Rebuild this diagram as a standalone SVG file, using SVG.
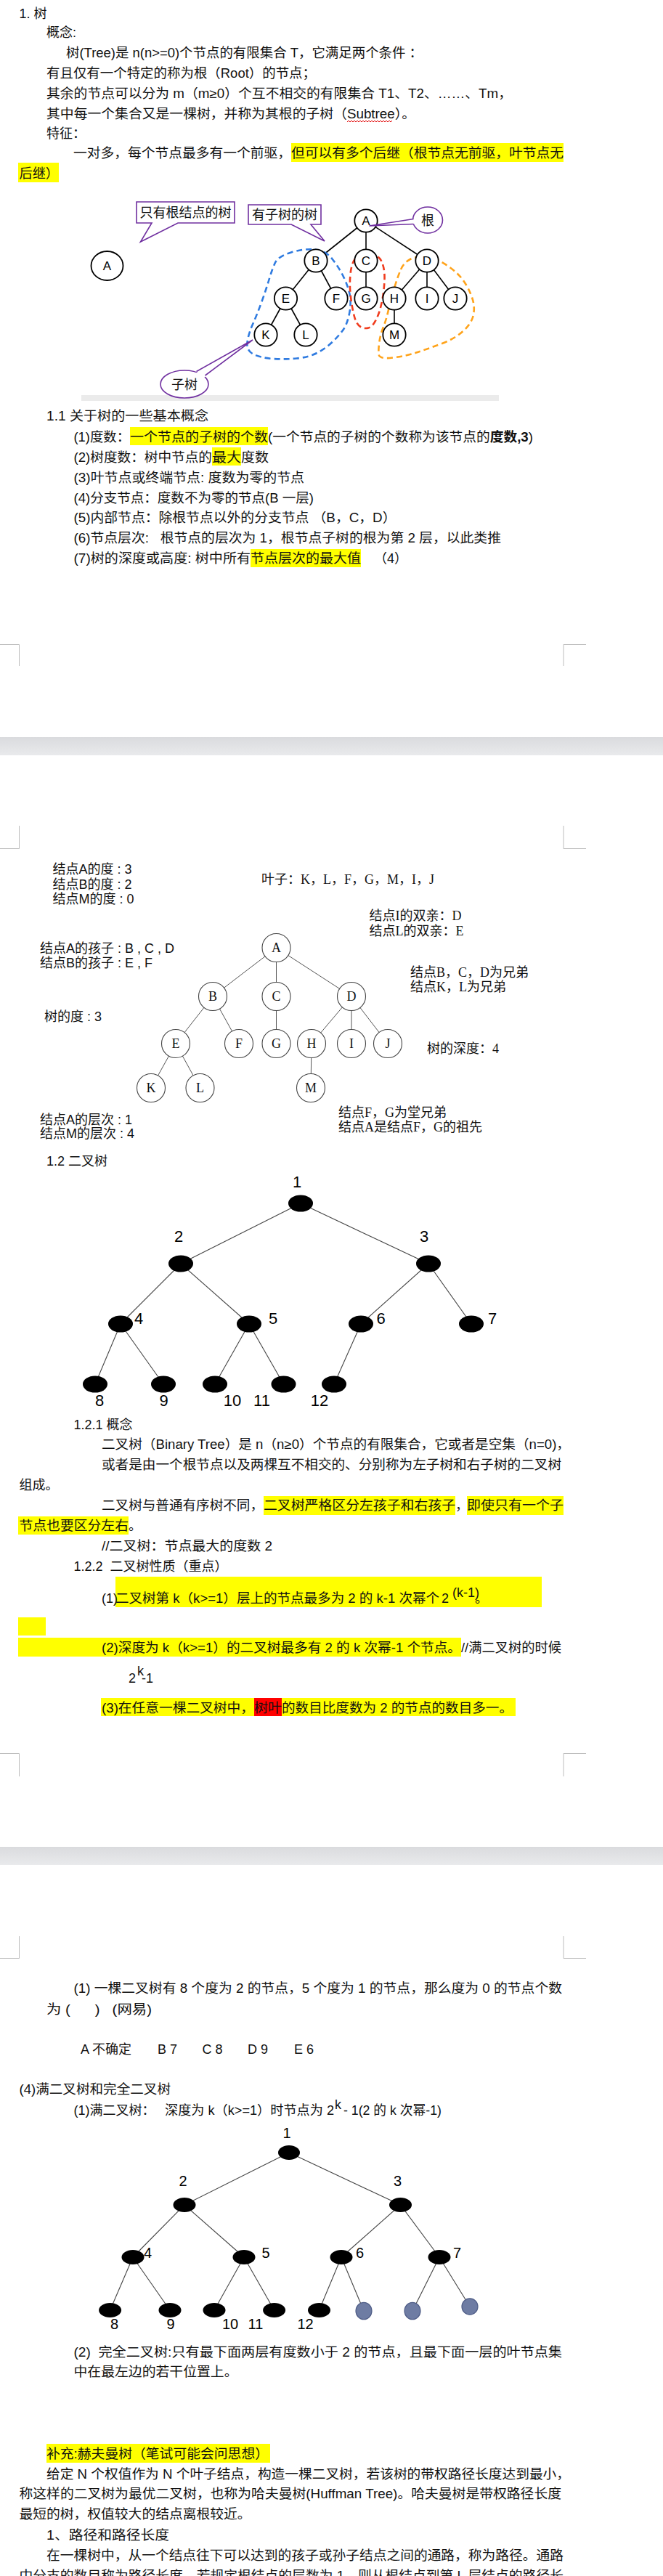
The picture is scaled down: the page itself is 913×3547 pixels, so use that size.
<svg xmlns="http://www.w3.org/2000/svg" width="913" height="3547" viewBox="0 0 913 3547">
<defs>
<linearGradient id="gap" x1="0" y1="0" x2="0" y2="1">
<stop offset="0" stop-color="#DADBDE"/><stop offset="1" stop-color="#E9EAEC"/>
</linearGradient>
<style>
.t{font-family:"Liberation Sans","Noto Sans CJK SC",sans-serif;font-size:18px;fill:#111}
.s{font-family:"Liberation Serif","Noto Sans CJK SC",serif;font-size:18px;fill:#111}
.hl{fill:#FFFF00}
.mark{stroke:#BDBDBD;stroke-width:1;fill:none}
.e1{stroke:#000;stroke-width:1.6;fill:none}
.n1 circle,.n1 ellipse{fill:#fff;stroke:#000;stroke-width:1.8}
.n1 text{font-family:"Liberation Sans",sans-serif;font-size:17px;text-anchor:middle;fill:#000}
.call{fill:#fff;stroke:#7030A0;stroke-width:1.6}
.callt{font-family:"Liberation Sans","Noto Sans CJK SC",sans-serif;font-size:18px;fill:#111;text-anchor:middle}
.loop{fill:none;stroke-width:2.6;stroke-dasharray:8 5}
.e2{stroke:#555;stroke-width:1;fill:none}
.n2 circle{fill:#fff;stroke:#444;stroke-width:1.1}
.n2 text{font-family:"Liberation Serif",serif;font-size:18px;text-anchor:middle;fill:#111}
.e3{stroke:#444;stroke-width:1.1;fill:none}
.bn{fill:#000}
.gn{fill:#6E7CA3;stroke:#4F5D87;stroke-width:1.2}
.bl{font-family:"Liberation Sans",sans-serif;font-size:22px;text-anchor:middle;fill:#000}
.bl2{font-family:"Liberation Sans",sans-serif;font-size:20px;text-anchor:middle;fill:#000}
</style>
</defs>
<rect x="0" y="0" width="913" height="3547" fill="#fff"/>

<!-- page gaps and corner marks -->
<rect x="0" y="1015" width="913" height="25" fill="url(#gap)"/>
<rect x="0" y="2543" width="913" height="25" fill="url(#gap)"/>
<path class="mark" d="M0,887.5H26.5V917 M776,917V887.5H807 M26.5,1137V1168.5H0 M776,1137V1168.5H807 M0,2414.5H26.5V2446 M776,2446V2414.5H807 M26.5,2666V2696.5H0 M776,2666V2696.5H807"/>

<!-- ===== page 1 text ===== -->
<g id="p1-text">
<rect class="hl" x="401" y="197" width="375" height="26"/>
<rect class="hl" x="25" y="224" width="56" height="27"/>
<text class="t" x="26.5" y="25">1. 树</text>
<text class="t" x="64" y="51">概念:</text>
<text class="t" x="91" y="79" textLength="491" lengthAdjust="spacingAndGlyphs">树(Tree)是 n(n&gt;=0)个节点的有限集合 T，它满足两个条件 ：</text>
<text class="t" x="64" y="107" textLength="371" lengthAdjust="spacingAndGlyphs">有且仅有一个特定的称为根（Root）的节点；</text>
<text class="t" x="64" y="135" textLength="641" lengthAdjust="spacingAndGlyphs">其余的节点可以分为 m（m≥0）个互不相交的有限集合 T1、T2、……、Tm，</text>
<text class="t" x="64" y="163" textLength="508" lengthAdjust="spacingAndGlyphs">其中每一个集合又是一棵树，并称为其根的子树（Subtree）。</text>
<polyline fill="none" stroke="#E00000" stroke-width="1" points="478,168 480,166 482,168 484,166 486,168 488,166 490,168 492,166 494,168 496,166 498,168 500,166 502,168 504,166 506,168 508,166 510,168 512,166 514,168 516,166 518,168 520,166 522,168 524,166 526,168 528,166 530,168 532,166 534,168 536,166 538,168 540,166"/>
<text class="t" x="64" y="190">特征：</text>
<text class="t" x="101" y="217" textLength="300" lengthAdjust="spacingAndGlyphs">一对多，每个节点最多有一个前驱，</text>
<text class="t" x="401" y="217" textLength="375" lengthAdjust="spacingAndGlyphs">但可以有多个后继（根节点无前驱，叶节点无</text>
<text class="t" x="26.5" y="245" textLength="54.5" lengthAdjust="spacingAndGlyphs">后继）</text>
</g>

<!-- ===== tree 1 ===== -->
<rect x="112" y="544" width="575" height="8" fill="#EBEBEB"/>
<g id="t1-single-A" class="n1"><ellipse cx="147.5" cy="366" rx="22" ry="20"/><text x="147.5" y="372">A</text></g>

<g id="t1-connectors">
<line class="e1" x1="504" y1="304" x2="435" y2="359"/>
<line class="e1" x1="504" y1="304" x2="504" y2="359"/>
<line class="e1" x1="504" y1="304" x2="588" y2="359"/>
<line class="e1" x1="435" y1="359" x2="393.5" y2="411"/>
<line class="e1" x1="435" y1="359" x2="463" y2="411"/>
<line class="e1" x1="504" y1="359" x2="504" y2="411"/>
<line class="e1" x1="588" y1="359" x2="543" y2="411"/>
<line class="e1" x1="588" y1="359" x2="588" y2="411"/>
<line class="e1" x1="588" y1="359" x2="627" y2="411"/>
<line class="e1" x1="393.5" y1="411" x2="366" y2="461"/>
<line class="e1" x1="393.5" y1="411" x2="421" y2="461"/>
<line class="e1" x1="543" y1="411" x2="543" y2="461"/>
</g>
<g id="t1-subtree-loops">
<path class="loop" stroke="#2F7BE0" d="M433.5,343.5 Q448,345 457,356 Q466,367 472.5,380 Q479,393 481.5,405 Q484,417 481,432 Q478,447 472,455 Q466,463 457,471.5 Q448,480 436.5,486 Q425,492 408.5,493.5 Q392,495 376,494 Q360,493 349.5,488 Q339,483 340.5,471.5 Q342,460 348,446.5 Q354,433 360,416.5 Q366,400 370.5,385 Q375,370 379,361.5 Q383,353 401,347.5 Q419,342 433.5,343.5 Z"/>
<path class="loop" stroke="#F03C1E" d="M508.5,349 Q521,350 525.5,360 Q530,370 529.5,385 Q529,400 526,415 Q523,430 518,440 Q513,450 507.5,451.5 Q502,453 496.5,450 Q491,447 488,436 Q485,425 483,409 Q481,393 482.5,377.5 Q484,362 490,355 Q496,348 508.5,349 Z"/>
<path class="loop" stroke="#FFA31A" d="M584,353.5 Q596,354 607.5,360.5 Q619,367 628,375 Q637,383 643.5,395 Q650,407 652,417 Q654,427 651,437 Q648,447 636.5,457 Q625,467 607.5,473.5 Q590,480 575,485 Q560,490 541,492.5 Q522,495 521.5,487.5 Q521,480 522.5,470 Q524,460 528,450 Q532,440 535,426.5 Q538,413 543,396.5 Q548,380 552,371 Q556,362 564,357.5 Q572,353 584,353.5 Z"/>
</g>
<g id="t1-A" class="n1"><circle cx="504" cy="304" r="15.7"/><text x="504" y="310">A</text></g>
<g id="t1-B" class="n1"><circle cx="435" cy="359" r="15.7"/><text x="435" y="365">B</text></g>
<g id="t1-C" class="n1"><circle cx="504" cy="359" r="15.7"/><text x="504" y="365">C</text></g>
<g id="t1-D" class="n1"><circle cx="588" cy="359" r="15.7"/><text x="588" y="365">D</text></g>
<g id="t1-E" class="n1"><circle cx="393.5" cy="411" r="15.7"/><text x="393.5" y="417">E</text></g>
<g id="t1-F" class="n1"><circle cx="463" cy="411" r="15.7"/><text x="463" y="417">F</text></g>
<g id="t1-G" class="n1"><circle cx="504" cy="411" r="15.7"/><text x="504" y="417">G</text></g>
<g id="t1-H" class="n1"><circle cx="543" cy="411" r="15.7"/><text x="543" y="417">H</text></g>
<g id="t1-I" class="n1"><circle cx="588" cy="411" r="15.7"/><text x="588" y="417">I</text></g>
<g id="t1-J" class="n1"><circle cx="627" cy="411" r="15.7"/><text x="627" y="417">J</text></g>
<g id="t1-K" class="n1"><circle cx="366" cy="461" r="15.7"/><text x="366" y="467">K</text></g>
<g id="t1-L" class="n1"><circle cx="421" cy="461" r="15.7"/><text x="421" y="467">L</text></g>
<g id="t1-M" class="n1"><circle cx="543" cy="461" r="15.7"/><text x="543" y="467">M</text></g>

<g id="callout-root-only">
<path class="call" d="M188,278H323V307H245L193.5,333L209,307H188Z"/>
<text class="callt" x="255.5" y="299">只有根结点的树</text>
</g>
<g id="callout-with-subtree">
<path class="call" d="M342,282H442V309H428L447,332L401,309H342Z"/>
<text class="callt" x="392" y="302">有子树的树</text>
</g>
<g id="callout-root">
<ellipse class="call" cx="589" cy="303" rx="20.5" ry="18"/>
<polygon points="572,301 508.5,311 572,308.5" fill="#fff"/>
<polyline points="569.5,301.5 508.5,311 569.5,308.5" fill="none" stroke="#7030A0" stroke-width="1.6"/>
<text class="callt" x="589" y="309.5">根</text>
</g>
<g id="callout-subtree">
<ellipse class="call" cx="254" cy="529" rx="33" ry="19"/>
<polygon points="269,514 348,468 281,520" fill="#fff"/>
<polyline points="270.5,511.5 348,468 282.5,517" fill="none" stroke="#7030A0" stroke-width="1.6"/>
<text class="callt" x="254" y="535.5">子树</text>
</g>

<!-- ===== section 1.1 ===== -->
<g id="s11-text">
<rect class="hl" x="179" y="588" width="190" height="25"/>
<rect class="hl" x="292" y="616" width="40" height="25"/>
<rect class="hl" x="345" y="756" width="152" height="25"/>
<text class="t" x="64" y="579" textLength="223" lengthAdjust="spacingAndGlyphs">1.1 关于树的一些基本概念</text>
<text class="t" x="101.5" y="608" textLength="77.5" lengthAdjust="spacingAndGlyphs">(1)度数：</text>
<text class="t" x="179" y="608" textLength="190" lengthAdjust="spacingAndGlyphs">一个节点的子树的个数</text>
<text class="t" x="369" y="608" textLength="365" lengthAdjust="spacingAndGlyphs">(一个节点的子树的个数称为该节点的<tspan font-weight="bold">度数,3</tspan>)</text>
<text class="t" x="101.5" y="636" textLength="190.5" lengthAdjust="spacingAndGlyphs">(2)树度数：树中节点的</text>
<text class="t" x="292" y="636" textLength="40" lengthAdjust="spacingAndGlyphs">最大</text>
<text class="t" x="332" y="636" textLength="38" lengthAdjust="spacingAndGlyphs">度数</text>
<text class="t" x="101.5" y="664" textLength="317.5" lengthAdjust="spacingAndGlyphs">(3)叶节点或终端节点: 度数为零的节点</text>
<text class="t" x="101.5" y="692" textLength="330.5" lengthAdjust="spacingAndGlyphs">(4)分支节点：度数不为零的节点(B 一层)</text>
<text class="t" x="101.5" y="719" textLength="444" lengthAdjust="spacingAndGlyphs">(5)内部节点：除根节点以外的分支节点 （B，C，D）</text>
<text class="t" x="101.5" y="747" textLength="588.5" lengthAdjust="spacingAndGlyphs" xml:space="preserve">(6)节点层次:   根节点的层次为 1，根节点子树的根为第 2 层，以此类推</text>
<text class="t" x="101.5" y="775" textLength="243.5" lengthAdjust="spacingAndGlyphs">(7)树的深度或高度: 树中所有</text>
<text class="t" x="345" y="775" textLength="152" lengthAdjust="spacingAndGlyphs">节点层次的最大值</text>
<text class="t" x="515" y="775">（4）</text>
</g>

<!-- ===== tree 2 (page 2) ===== -->
<g id="t2-notes">
<text class="t" x="72.5" y="1203">结点A的度 : 3</text>
<text class="t" x="72.5" y="1224">结点B的度 : 2</text>
<text class="t" x="72.5" y="1244">结点M的度 : 0</text>
<text class="s" x="360" y="1217">叶子：K，L，F，G，M，I，J</text>
<text class="s" x="508.5" y="1267">结点I的双亲：D</text>
<text class="s" x="508.5" y="1288">结点L的双亲：E</text>
<text class="t" x="55" y="1312">结点A的孩子 : B , C , D</text>
<text class="t" x="55" y="1332">结点B的孩子 : E , F</text>
<text class="s" x="565" y="1345">结点B，C，D为兄弟</text>
<text class="s" x="565" y="1365">结点K，L为兄弟</text>
<text class="t" x="61" y="1406">树的度 : 3</text>
<text class="s" x="588" y="1450">树的深度：4</text>
<text class="t" x="55" y="1548">结点A的层次 : 1</text>
<text class="t" x="55" y="1567">结点M的层次 : 4</text>
<text class="s" x="466" y="1538">结点F，G为堂兄弟</text>
<text class="s" x="466" y="1558">结点A是结点F，G的祖先</text>
</g>
<g id="t2-connectors">
<line class="e2" x1="380.5" y1="1305" x2="293" y2="1372"/>
<line class="e2" x1="380.5" y1="1305" x2="380.5" y2="1372"/>
<line class="e2" x1="380.5" y1="1305" x2="484" y2="1372"/>
<line class="e2" x1="293" y1="1372" x2="242" y2="1437"/>
<line class="e2" x1="293" y1="1372" x2="329" y2="1437"/>
<line class="e2" x1="380.5" y1="1372" x2="380.5" y2="1437"/>
<line class="e2" x1="484" y1="1372" x2="429" y2="1437"/>
<line class="e2" x1="484" y1="1372" x2="484" y2="1437"/>
<line class="e2" x1="484" y1="1372" x2="534" y2="1437"/>
<line class="e2" x1="242" y1="1437" x2="208" y2="1498"/>
<line class="e2" x1="242" y1="1437" x2="275.5" y2="1498"/>
<line class="e2" x1="429" y1="1437" x2="428" y2="1498"/>
</g>
<g id="t2-A" class="n2"><circle cx="380.5" cy="1305" r="19.5"/><text x="380.5" y="1311">A</text></g>
<g id="t2-B" class="n2"><circle cx="293" cy="1372" r="19.5"/><text x="293" y="1378">B</text></g>
<g id="t2-C" class="n2"><circle cx="380.5" cy="1372" r="19.5"/><text x="380.5" y="1378">C</text></g>
<g id="t2-D" class="n2"><circle cx="484" cy="1372" r="19.5"/><text x="484" y="1378">D</text></g>
<g id="t2-E" class="n2"><circle cx="242" cy="1437" r="19.5"/><text x="242" y="1443">E</text></g>
<g id="t2-F" class="n2"><circle cx="329" cy="1437" r="19.5"/><text x="329" y="1443">F</text></g>
<g id="t2-G" class="n2"><circle cx="380.5" cy="1437" r="19.5"/><text x="380.5" y="1443">G</text></g>
<g id="t2-H" class="n2"><circle cx="429" cy="1437" r="19.5"/><text x="429" y="1443">H</text></g>
<g id="t2-I" class="n2"><circle cx="484" cy="1437" r="19.5"/><text x="484" y="1443">I</text></g>
<g id="t2-J" class="n2"><circle cx="534" cy="1437" r="19.5"/><text x="534" y="1443">J</text></g>
<g id="t2-K" class="n2"><circle cx="208" cy="1498" r="19.5"/><text x="208" y="1504">K</text></g>
<g id="t2-L" class="n2"><circle cx="275.5" cy="1498" r="19.5"/><text x="275.5" y="1504">L</text></g>
<g id="t2-M" class="n2"><circle cx="428" cy="1498" r="19.5"/><text x="428" y="1504">M</text></g>

<!-- ===== 1.2 binary tree ===== -->
<text class="t" x="64" y="1605">1.2 二叉树</text>
<g id="bt-connectors">
<line class="e3" x1="414" y1="1657" x2="249" y2="1740"/>
<line class="e3" x1="414" y1="1657" x2="590" y2="1740"/>
<line class="e3" x1="249" y1="1740" x2="166" y2="1823"/>
<line class="e3" x1="249" y1="1740" x2="343" y2="1823"/>
<line class="e3" x1="590" y1="1740" x2="497" y2="1823"/>
<line class="e3" x1="590" y1="1740" x2="649" y2="1823"/>
<line class="e3" x1="166" y1="1823" x2="131" y2="1906"/>
<line class="e3" x1="166" y1="1823" x2="225" y2="1906"/>
<line class="e3" x1="343" y1="1823" x2="296" y2="1906"/>
<line class="e3" x1="343" y1="1823" x2="390.5" y2="1906"/>
<line class="e3" x1="497" y1="1823" x2="460" y2="1906"/>
</g>
<g id="bt-1"><ellipse class="bn" cx="414" cy="1657" rx="17" ry="11.5"/><text class="bl" x="409" y="1635">1</text></g>
<g id="bt-2"><ellipse class="bn" cx="249" cy="1740" rx="17" ry="11.5"/><text class="bl" x="246" y="1710">2</text></g>
<g id="bt-3"><ellipse class="bn" cx="590" cy="1740" rx="17" ry="11.5"/><text class="bl" x="584" y="1710">3</text></g>
<g id="bt-4"><ellipse class="bn" cx="166" cy="1823" rx="17" ry="11.5"/><text class="bl" x="191" y="1823">4</text></g>
<g id="bt-5"><ellipse class="bn" cx="343" cy="1823" rx="17" ry="11.5"/><text class="bl" x="376" y="1823">5</text></g>
<g id="bt-6"><ellipse class="bn" cx="497" cy="1823" rx="17" ry="11.5"/><text class="bl" x="524.5" y="1823">6</text></g>
<g id="bt-7"><ellipse class="bn" cx="649" cy="1823" rx="17" ry="11.5"/><text class="bl" x="678" y="1823">7</text></g>
<g id="bt-8"><ellipse class="bn" cx="131" cy="1906" rx="17" ry="11.5"/><text class="bl" x="137" y="1936">8</text></g>
<g id="bt-9"><ellipse class="bn" cx="225" cy="1906" rx="17" ry="11.5"/><text class="bl" x="225.5" y="1936">9</text></g>
<g id="bt-10"><ellipse class="bn" cx="296" cy="1906" rx="17" ry="11.5"/><text class="bl" x="320" y="1936">10</text></g>
<g id="bt-11"><ellipse class="bn" cx="390.5" cy="1906" rx="17" ry="11.5"/><text class="bl" x="360.5" y="1936">11</text></g>
<g id="bt-12"><ellipse class="bn" cx="460" cy="1906" rx="17" ry="11.5"/><text class="bl" x="440" y="1936">12</text></g>

<!-- ===== 1.2.1 / 1.2.2 text ===== -->
<g id="s12-text">
<text class="t" x="101.5" y="1968">1.2.1 概念</text>
<text class="t" x="140" y="1995" textLength="645" lengthAdjust="spacingAndGlyphs">二叉树（Binary Tree）是 n（n≥0）个节点的有限集合，它或者是空集（n=0)，</text>
<text class="t" x="140" y="2023" textLength="633" lengthAdjust="spacingAndGlyphs">或者是由一个根节点以及两棵互不相交的、分别称为左子树和右子树的二叉树</text>
<text class="t" x="26.5" y="2051">组成。</text>
<rect class="hl" x="363" y="2060" width="264" height="26"/>
<rect class="hl" x="643" y="2060" width="133" height="26"/>
<rect class="hl" x="25" y="2088" width="152" height="25"/>
<text class="t" x="140" y="2079" textLength="223" lengthAdjust="spacingAndGlyphs">二叉树与普通有序树不同，</text>
<text class="t" x="363" y="2079" textLength="264" lengthAdjust="spacingAndGlyphs">二叉树严格区分左孩子和右孩子</text>
<text class="t" x="627" y="2079">，</text>
<text class="t" x="643" y="2079" textLength="133" lengthAdjust="spacingAndGlyphs">即使只有一个子</text>
<text class="t" x="26.5" y="2107" textLength="150.5" lengthAdjust="spacingAndGlyphs">节点也要区分左右</text>
<text class="t" x="177" y="2107">。</text>
<text class="t" x="140" y="2135" textLength="235" lengthAdjust="spacingAndGlyphs">//二叉树：节点最大的度数 2</text>
<text class="t" x="101.5" y="2163" xml:space="preserve">1.2.2  二叉树性质（重点）</text>

<rect class="hl" x="159" y="2171" width="587" height="42"/>
<text class="t" x="140" y="2207">(1)</text>
<text class="t" x="159" y="2207" textLength="446" lengthAdjust="spacingAndGlyphs">二叉树第 k（k&gt;=1）层上的节点最多为 2 的 k-1 次幂个</text>
<text class="t" x="608" y="2207" font-size="23">2</text>
<text class="t" x="623" y="2199" font-size="13">(k-1)</text>
<text class="t" x="654" y="2207">。</text>

<rect class="hl" x="25" y="2227" width="38" height="25"/>
<rect class="hl" x="25" y="2255" width="610" height="26"/>
<text class="t" x="140" y="2275" textLength="495" lengthAdjust="spacingAndGlyphs">(2)深度为 k（k&gt;=1）的二叉树最多有 2 的 k 次幂-1 个节点。</text>
<text class="t" x="635" y="2275" textLength="138" lengthAdjust="spacingAndGlyphs">//满二叉树的时候</text>

<text class="t" x="177" y="2317" font-size="21">2</text>
<text class="t" x="189" y="2307" font-size="12">k</text>
<text class="t" x="195" y="2317" font-size="21">-1</text>

<rect class="hl" x="139" y="2338" width="571" height="25"/>
<rect x="350" y="2338" width="38" height="25" fill="#FF0000"/>
<text class="t" x="140" y="2358" textLength="210" lengthAdjust="spacingAndGlyphs">(3)在任意一棵二叉树中，</text>
<text class="t" x="350" y="2358" textLength="38" lengthAdjust="spacingAndGlyphs">树叶</text>
<text class="t" x="388" y="2358" textLength="318" lengthAdjust="spacingAndGlyphs">的数目比度数为 2 的节点的数目多一。</text>
</g>

<!-- ===== page 3 ===== -->
<g id="p3-text">
<text class="t" x="101.5" y="2744" textLength="672.5" lengthAdjust="spacingAndGlyphs">(1) 一棵二叉树有 8 个度为 2 的节点，5 个度为 1 的节点，那么度为 0 的节点个数</text>
<text class="t" x="64" y="2773" textLength="145" lengthAdjust="spacingAndGlyphs" xml:space="preserve">为 (      )   (网易)</text>
<text class="t" x="111" y="2828">A 不确定</text>
<text class="t" x="217" y="2828">B 7</text>
<text class="t" x="278.5" y="2828">C 8</text>
<text class="t" x="341" y="2828">D 9</text>
<text class="t" x="405" y="2828">E 6</text>
<text class="t" x="26.5" y="2883" textLength="208.5" lengthAdjust="spacingAndGlyphs">(4)满二叉树和完全二叉树</text>
<text class="t" x="101.5" y="2912">(1)满二叉树：</text>
<text class="t" x="227" y="2912" textLength="233" lengthAdjust="spacingAndGlyphs">深度为 k（k&gt;=1）时节点为 2</text>
<text class="t" x="461" y="2904" font-size="11">k</text>
<text class="t" x="468" y="2912" textLength="140" lengthAdjust="spacingAndGlyphs" xml:space="preserve"> - 1(2 的 k 次幂-1)</text>
</g>

<g id="fbt-connectors">
<line class="e3" x1="398" y1="2964" x2="254" y2="3036"/>
<line class="e3" x1="398" y1="2964" x2="551.5" y2="3036"/>
<line class="e3" x1="254" y1="3036" x2="183" y2="3108"/>
<line class="e3" x1="254" y1="3036" x2="336" y2="3108"/>
<line class="e3" x1="551.5" y1="3036" x2="470" y2="3108"/>
<line class="e3" x1="551.5" y1="3036" x2="605" y2="3108"/>
<line class="e3" x1="183" y1="3108" x2="151.6" y2="3181"/>
<line class="e3" x1="183" y1="3108" x2="234" y2="3181"/>
<line class="e3" x1="336" y1="3108" x2="295" y2="3181"/>
<line class="e3" x1="336" y1="3108" x2="377.6" y2="3181"/>
<line class="e3" x1="470" y1="3108" x2="439.5" y2="3181"/>
<line class="e3" x1="470" y1="3108" x2="501" y2="3182"/>
<line class="e3" x1="605" y1="3108" x2="568" y2="3182"/>
<line class="e3" x1="605" y1="3108" x2="647" y2="3176"/>
</g>
<g id="fbt-1"><ellipse class="bn" cx="398" cy="2964" rx="15" ry="10"/><text class="bl2" x="395" y="2944">1</text></g>
<g id="fbt-2"><ellipse class="bn" cx="254" cy="3036" rx="15.5" ry="10"/><text class="bl2" x="252" y="3010">2</text></g>
<g id="fbt-3"><ellipse class="bn" cx="551.5" cy="3036" rx="15.5" ry="10"/><text class="bl2" x="547.5" y="3010">3</text></g>
<g id="fbt-4"><ellipse class="bn" cx="183" cy="3108" rx="15.5" ry="10"/><text class="bl2" x="203.5" y="3109">4</text></g>
<g id="fbt-5"><ellipse class="bn" cx="336" cy="3108" rx="15.5" ry="10"/><text class="bl2" x="366" y="3109">5</text></g>
<g id="fbt-6"><ellipse class="bn" cx="470" cy="3108" rx="15.5" ry="10"/><text class="bl2" x="495.5" y="3109">6</text></g>
<g id="fbt-7"><ellipse class="bn" cx="605" cy="3108" rx="15.5" ry="10"/><text class="bl2" x="629.5" y="3109">7</text></g>
<g id="fbt-8"><ellipse class="bn" cx="151.6" cy="3181" rx="15.5" ry="10"/><text class="bl2" x="157.5" y="3207">8</text></g>
<g id="fbt-9"><ellipse class="bn" cx="234" cy="3181" rx="15.5" ry="10"/><text class="bl2" x="235" y="3207">9</text></g>
<g id="fbt-10"><ellipse class="bn" cx="295" cy="3181" rx="15.5" ry="10"/><text class="bl2" x="317" y="3207">10</text></g>
<g id="fbt-11"><ellipse class="bn" cx="377.6" cy="3181" rx="15.5" ry="10"/><text class="bl2" x="352" y="3207">11</text></g>
<g id="fbt-12"><ellipse class="bn" cx="439.5" cy="3181" rx="15.5" ry="10"/><text class="bl2" x="420.5" y="3207">12</text></g>
<g id="fbt-g1"><ellipse class="gn" cx="501" cy="3182" rx="11" ry="11.7"/></g>
<g id="fbt-g2"><ellipse class="gn" cx="568" cy="3182" rx="11" ry="11.7"/></g>
<g id="fbt-g3"><ellipse class="gn" cx="647" cy="3176" rx="11" ry="11.2"/></g>

<g id="p3-text2">
<text class="t" x="101.5" y="3245" textLength="672.5" lengthAdjust="spacingAndGlyphs" xml:space="preserve">(2)  完全二叉树:只有最下面两层有度数小于 2 的节点，且最下面一层的叶节点集</text>
<text class="t" x="101.5" y="3272" textLength="226" lengthAdjust="spacingAndGlyphs">中在最左边的若干位置上。</text>
<rect class="hl" x="64" y="3365" width="308" height="26"/>
<text class="t" x="64" y="3385" textLength="306" lengthAdjust="spacingAndGlyphs">补充:赫夫曼树（笔试可能会问思想）</text>
<text class="t" x="64" y="3413" textLength="721" lengthAdjust="spacingAndGlyphs">给定 N 个权值作为 N 个叶子结点，构造一棵二叉树，若该树的带权路径长度达到最小，</text>
<text class="t" x="26.5" y="3440" textLength="746.5" lengthAdjust="spacingAndGlyphs">称这样的二叉树为最优二叉树，也称为哈夫曼树(Huffman Tree)。哈夫曼树是带权路径长度</text>
<text class="t" x="26.5" y="3468" textLength="319" lengthAdjust="spacingAndGlyphs">最短的树，权值较大的结点离根较近。</text>
<text class="t" x="64" y="3497" textLength="169" lengthAdjust="spacingAndGlyphs">1、路径和路径长度</text>
<text class="t" x="64" y="3525" textLength="712" lengthAdjust="spacingAndGlyphs">在一棵树中，从一个结点往下可以达到的孩子或孙子结点之间的通路，称为路径。通路</text>
<text class="t" x="26.5" y="3553" textLength="749.5" lengthAdjust="spacingAndGlyphs">中分支的数目称为路径长度。若规定根结点的层数为 1，则从根结点到第 L 层结点的路径长</text>
</g>
</svg>
